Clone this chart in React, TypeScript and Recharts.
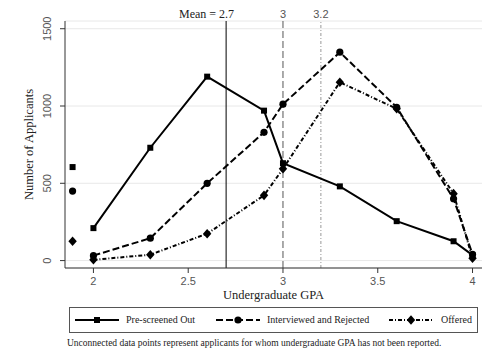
import React from 'react'
import {
  ComposedChart,
  Line,
  XAxis,
  YAxis,
  CartesianGrid,
  ReferenceLine,
  Label,
} from 'recharts'

const gpa = [2, 2.3, 2.6, 2.9, 3, 3.3, 3.6, 3.9, 4]
const preScreenedOut = [210, 730, 1190, 970, 630, 480, 255, 125, 35]
const interviewedRejected = [32, 145, 500, 830, 1012, 1348, 992, 400, 40]
const offered = [5, 38, 174, 422, 594, 1154, 982, 433, 15]

// GPA not reported, drawn off to the left as unconnected points
const missingGpaX = 1.89
const missingPreScreened = 605
const missingInterviewed = 450
const missingOffered = 125

const xTicks = [2, 2.5, 3, 3.5, 4]
const yTicks = [0, 500, 1000, 1500]
const refLines = [
  { x: 2.7, label: 'Mean = 2.7', stroke: '#000', dash: undefined, dx: 8, anchor: 'end', serif: true },
  { x: 3, label: '3', stroke: '#555', dash: '7 3', dx: 0, anchor: 'middle', serif: false },
  { x: 3.2, label: '3.2', stroke: '#999', dash: '3 2 1 2', dx: 0, anchor: 'middle', serif: false },
]

const data = [
  { gpa: missingGpaX, preNA: missingPreScreened, intNA: missingInterviewed, offNA: missingOffered },
  ...gpa.map((g, i) => ({
    gpa: g,
    pre: preScreenedOut[i],
    int: interviewedRejected[i],
    off: offered[i],
  })),
]

const SERIF = '"Liberation Serif", "Times New Roman", serif'
const SANS = '"Liberation Sans", Arial, sans-serif'

const Square = (p: any) =>
  p.cx == null || p.cy == null ? null : (
    <rect key={p.key} x={p.cx - 3} y={p.cy - 3} width={6} height={6} fill="#000" />
  )
const Circle = (p: any) =>
  p.cx == null || p.cy == null ? null : <circle key={p.key} cx={p.cx} cy={p.cy} r={3.6} fill="#000" />
const Diamond = (p: any) =>
  p.cx == null || p.cy == null ? null : (
    <polygon
      key={p.key}
      points={`${p.cx},${p.cy - 4.8} ${p.cx + 4.2},${p.cy} ${p.cx},${p.cy + 4.8} ${p.cx - 4.2},${p.cy}`}
      fill="#000"
    />
  )

const YTick = (props: any) => {
  const { x, y, payload } = props
  return (
    <text
      x={x - 7}
      y={y}
      transform={`rotate(-90, ${x - 7}, ${y})`}
      textAnchor="middle"
      fontFamily={SANS}
      fontSize={11}
      fill="#555"
    >
      {payload.value}
    </text>
  )
}

const legendItems = [
  { name: 'Pre-screened Out', dash: undefined, marker: 'square', sampleLeft: 5, textLeft: 56 },
  { name: 'Interviewed and Rejected', dash: '7 3', marker: 'circle', sampleLeft: 146, textLeft: 197 },
  { name: 'Offered', dash: '4 2 1 2', marker: 'diamond', sampleLeft: 319, textLeft: 371 },
]

const LegendSample = ({ dash, marker }: { dash?: string; marker: string }) => (
  <svg width={44} height={12} style={{ display: 'block' }}>
    <line x1={0} y1={6} x2={44} y2={6} stroke="#000" strokeWidth={2} strokeDasharray={dash} />
    {marker === 'square' && <rect x={19} y={3} width={6} height={6} fill="#000" />}
    {marker === 'circle' && <circle cx={22} cy={6} r={3.6} fill="#000" />}
    {marker === 'diamond' && <polygon points="22,1.2 26.2,6 22,10.8 17.8,6" fill="#000" />}
  </svg>
)

export default function App() {
  return (
    <div style={{ position: 'relative', width: 486, height: 360, background: '#fff' }}>
      <style>{'body{margin:0}'}</style>
      <ComposedChart
        width={486}
        height={360}
        data={data}
        margin={{ top: 21, right: 4, bottom: 62, left: 0 }}
      >
        <CartesianGrid horizontal vertical={false} stroke="#e8e8e8" />
        <XAxis
          type="number"
          dataKey="gpa"
          domain={[1.85, 4.05]}
          ticks={xTicks}
          allowDataOverflow
          height={30}
          tickSize={5}
          tickMargin={4}
          stroke="#333"
          tick={{ fill: '#555', fontSize: 11, fontFamily: SANS }}
        >
          <Label
            content={(p: any) => {
              const vb = p.viewBox
              return (
                <text
                  x={vb.x + vb.width / 2}
                  y={vb.y + 31}
                  textAnchor="middle"
                  fontFamily={SERIF}
                  fontSize={12.5}
                  fill="#222"
                >
                  Undergraduate GPA
                </text>
              )
            }}
          />
        </XAxis>
        <YAxis
          type="number"
          domain={[-48, 1550]}
          ticks={yTicks}
          allowDataOverflow
          width={65}
          tickSize={5}
          stroke="#333"
          tick={<YTick />}
        >
          <Label
            content={(p: any) => {
              const vb = p.viewBox
              const cy = vb.y + vb.height / 2
              return (
                <text
                  x={33}
                  y={cy}
                  transform={`rotate(-90, 33, ${cy})`}
                  textAnchor="middle"
                  fontFamily={SERIF}
                  fontSize={12.5}
                  fill="#222"
                >
                  Number of Applicants
                </text>
              )
            }}
          />
        </YAxis>
        {refLines.map((r) => (
          <ReferenceLine
            key={r.x}
            x={r.x}
            stroke={r.stroke}
            strokeWidth={1}
            strokeDasharray={r.dash}
            label={(p: any) => (
              <text
                x={p.viewBox.x + r.dx}
                y={p.viewBox.y - 3}
                textAnchor={r.anchor as any}
                fontFamily={r.serif ? SERIF : SANS}
                fontSize={r.serif ? 12 : 11}
                fill={r.serif ? '#222' : '#555'}
              >
                {r.label}
              </text>
            )}
          />
        ))}
        <Line dataKey="pre" stroke="#000" strokeWidth={2} dot={Square} activeDot={false} isAnimationActive={false} />
        <Line dataKey="int" stroke="#000" strokeWidth={2} strokeDasharray="7 3" dot={Circle} activeDot={false} isAnimationActive={false} />
        <Line dataKey="off" stroke="#000" strokeWidth={2} strokeDasharray="4 2 1 2" dot={Diamond} activeDot={false} isAnimationActive={false} />
        <Line dataKey="preNA" stroke="none" dot={Square} activeDot={false} isAnimationActive={false} />
        <Line dataKey="intNA" stroke="none" dot={Circle} activeDot={false} isAnimationActive={false} />
        <Line dataKey="offNA" stroke="none" dot={Diamond} activeDot={false} isAnimationActive={false} />
      </ComposedChart>

      <div
        style={{
          position: 'absolute',
          left: 69,
          top: 307,
          width: 409,
          height: 26,
          border: '1px solid #555',
          boxSizing: 'border-box',
          background: '#fff',
        }}
      >
        {legendItems.map((it) => (
          <React.Fragment key={it.name}>
            <div style={{ position: 'absolute', left: it.sampleLeft, top: 6 }}>
              <LegendSample dash={it.dash} marker={it.marker} />
            </div>
            <div
              style={{
                position: 'absolute',
                left: it.textLeft,
                top: 5,
                fontFamily: SERIF,
                fontSize: 10,
                lineHeight: '14px',
                color: '#222',
                whiteSpace: 'nowrap',
              }}
            >
              {it.name}
            </div>
          </React.Fragment>
        ))}
      </div>
      <div
        style={{
          position: 'absolute',
          left: 67,
          top: 336,
          fontFamily: SERIF,
          fontSize: 9.5,
          lineHeight: '14px',
          color: '#222',
          whiteSpace: 'nowrap',
        }}
      >
        Unconnected data points represent applicants for whom undergraduate GPA has not been reported.
      </div>
    </div>
  )
}
